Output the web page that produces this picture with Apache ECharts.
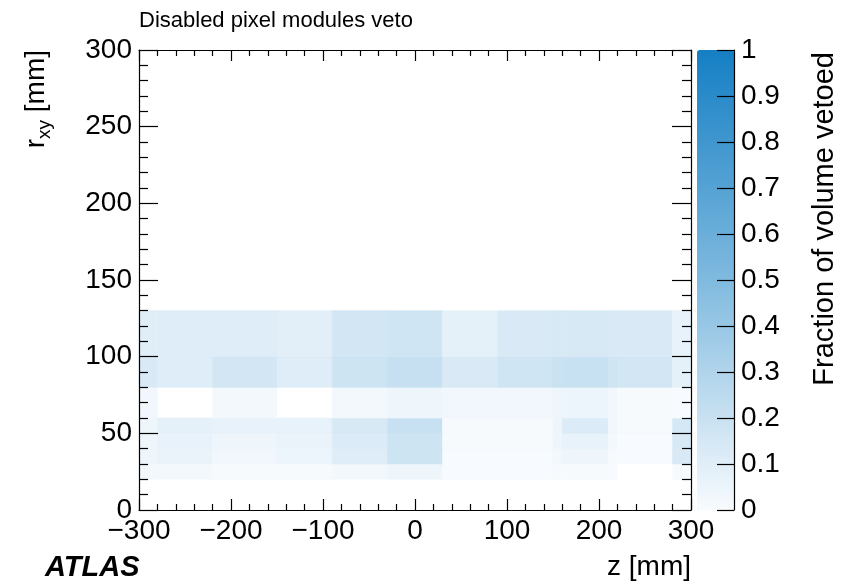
<!DOCTYPE html>
<html>
<head>
<meta charset="utf-8">
<title>Disabled pixel modules veto</title>
<script src="https://cdn.jsdelivr.net/npm/echarts@6/dist/echarts.min.js"></script>
<style>
  html, body { margin: 0; padding: 0; background: #ffffff; }
  #chart { width: 857px; height: 586px; }
</style>
</head>
<body>
<div id="chart"></div>
<script>
// Bin edges of the veto map (mm)
const zEdges = [-300, -280, -220, -150, -90, -30, 30, 90, 150, 160, 210, 220, 280, 300];
const rEdges = [20, 30, 40, 50, 60, 80, 100, 130];

// Fraction of volume vetoed, one array per radial band, one value per z bin
const veto_r20_30   = [0.02, 0.02, 0.01, 0.01, 0.02, 0.04, 0.005, 0.005, 0.01, 0.01, 0.005, 0.00, 0.01];
const veto_r30_40   = [0.04, 0.06, 0.03, 0.05, 0.11, 0.18, 0.005, 0.005, 0.02, 0.04, 0.01, 0.005, 0.13];
const veto_r40_50   = [0.04, 0.07, 0.04, 0.06, 0.12, 0.18, 0.01, 0.01, 0.04, 0.07, 0.02, 0.005, 0.14];
const veto_r50_60   = [0.04, 0.08, 0.07, 0.07, 0.14, 0.20, 0.01, 0.01, 0.04, 0.12, 0.03, 0.01, 0.15];
const veto_r60_80   = [0.03, 0.00, 0.02, 0.00, 0.02, 0.04, 0.03, 0.03, 0.04, 0.05, 0.03, 0.01, 0.005];
const veto_r80_100  = [0.13, 0.11, 0.16, 0.11, 0.18, 0.21, 0.13, 0.17, 0.19, 0.20, 0.17, 0.16, 0.08];
const veto_r100_130 = [0.10, 0.11, 0.11, 0.09, 0.16, 0.17, 0.08, 0.13, 0.14, 0.14, 0.13, 0.13, 0.07];

const bands = [veto_r20_30, veto_r30_40, veto_r40_50, veto_r50_60, veto_r60_80, veto_r80_100, veto_r100_130];

// Axis ranges and tick steps
const zRange = [-300, 300], zStep = 100;
const rRange = [0, 300], rStep = 50;
const fracRange = [0, 1], fracStep = 0.1;

const FONT = '"Liberation Sans", Arial, Helvetica, sans-serif';

// Flatten into [z0, z1, r0, r1, fraction]; empty bins are not drawn
const cells = [];
bands.forEach((row, i) => {
  row.forEach((v, j) => {
    if (v > 0) cells.push([zEdges[j], zEdges[j + 1], rEdges[i], rEdges[i + 1], v]);
  });
});

function renderCell(params, api) {
  const p0 = api.coord([api.value(0), api.value(3)]);
  const p1 = api.coord([api.value(1), api.value(2)]);
  const color = api.visual('color');
  return {
    type: 'rect',
    shape: { x: p0[0], y: p0[1], width: p1[0] - p0[0], height: p1[1] - p0[1] },
    style: { fill: color, stroke: color, lineWidth: 0.6 }
  };
}

const minus = v => String(v).replace('-', '\u2212');

const frameAxis = {
  type: 'value',
  z: 10,
  splitLine: { show: false },
  axisLine: { show: true, onZero: false, lineStyle: { color: '#000', width: 1.2 } },
  axisLabel: { show: false }
};

const chart = echarts.init(document.getElementById('chart'), null, { renderer: 'canvas' });

chart.setOption({
  backgroundColor: '#ffffff',
  animation: false,
  textStyle: { fontFamily: FONT },
  grid: [
    { left: 139, top: 50, width: 552, height: 460 },
    { left: 697, top: 50, width: 37, height: 460 }
  ],
  xAxis: [
    Object.assign({}, frameAxis, {
      gridIndex: 0, position: 'bottom', min: zRange[0], max: zRange[1], interval: zStep,
      axisTick: { show: true, inside: true, length: 11, lineStyle: { color: '#000', width: 1.2 } },
      minorTick: { show: true, splitNumber: 5, length: 6, lineStyle: { color: '#000', width: 1.2 } },
      axisLabel: { show: true, fontSize: 28, color: '#000', fontFamily: FONT, margin: 7,
                   showMinLabel: true, showMaxLabel: true, formatter: minus }
    }),
    Object.assign({}, frameAxis, {
      gridIndex: 0, position: 'top', min: zRange[0], max: zRange[1], interval: zStep,
      axisTick: { show: true, inside: true, length: 11, lineStyle: { color: '#000', width: 1.2 } },
      minorTick: { show: true, splitNumber: 5, length: 6, lineStyle: { color: '#000', width: 1.2 } }
    }),
    { type: 'value', gridIndex: 1, min: 0, max: 1, show: false }
  ],
  yAxis: [
    Object.assign({}, frameAxis, {
      gridIndex: 0, position: 'left', min: rRange[0], max: rRange[1], interval: rStep,
      axisTick: { show: true, inside: true, length: 19, lineStyle: { color: '#000', width: 1.2 } },
      minorTick: { show: true, splitNumber: 5, length: 9, lineStyle: { color: '#000', width: 1.2 } },
      axisLabel: { show: true, fontSize: 28, color: '#000', fontFamily: FONT, margin: 7,
                   showMinLabel: true, showMaxLabel: true }
    }),
    Object.assign({}, frameAxis, {
      gridIndex: 0, position: 'right', min: rRange[0], max: rRange[1], interval: rStep,
      axisTick: { show: true, inside: true, length: 19, lineStyle: { color: '#000', width: 1.2 } },
      minorTick: { show: true, splitNumber: 5, length: 9, lineStyle: { color: '#000', width: 1.2 } }
    }),
    Object.assign({}, frameAxis, {
      gridIndex: 1, position: 'right', min: fracRange[0], max: fracRange[1], interval: fracStep,
      axisTick: { show: true, inside: true, length: 17, lineStyle: { color: '#000', width: 1.2 } },
      axisLabel: { show: true, fontSize: 28, color: '#000', fontFamily: FONT, margin: 7,
                   showMinLabel: true, showMaxLabel: true }
    })
  ],
  visualMap: {
    type: 'continuous',
    min: fracRange[0],
    max: fracRange[1],
    dimension: 4,
    seriesIndex: 0,
    calculable: false,
    hoverLink: false,
    left: 697,
    top: 50,
    padding: 0,
    itemWidth: 37,
    itemHeight: 460,
    inRange: { color: ['#f8fbfe', '#80badf', '#157fc4'] }
  },
  series: [{
    type: 'custom',
    name: 'veto fraction',
    xAxisIndex: 0,
    yAxisIndex: 0,
    renderItem: renderCell,
    encode: { x: [0, 1], y: [2, 3] },
    data: cells,
    silent: true
  }],
  graphic: [
    {
      type: 'text', left: 139, top: 10,
      style: { text: 'Disabled pixel modules veto', font: '22px ' + FONT, fill: '#000' }
    },
    {
      type: 'text', x: 36, y: 50, rotation: Math.PI / 2,
      style: {
        text: '{a|r}{s|xy}{a| [mm]}',
        align: 'right', verticalAlign: 'middle',
        rich: {
          a: { fontFamily: FONT, fontSize: 28, lineHeight: 36, fill: '#000', verticalAlign: 'middle' },
          s: { fontFamily: FONT, fontSize: 19, lineHeight: 20, fill: '#000', verticalAlign: 'bottom' }
        }
      }
    },
    {
      type: 'text', x: 825, y: 52, rotation: Math.PI / 2,
      style: {
        text: 'Fraction of volume vetoed',
        align: 'right', verticalAlign: 'middle',
        font: '29px ' + FONT, fill: '#000'
      }
    },
    {
      type: 'text', left: 45, top: 553,
      style: { text: 'ATLAS', font: 'italic bold 29px ' + FONT, fill: '#000' }
    },
    {
      type: 'text', right: 166, top: 553,
      style: { text: 'z [mm]', font: '28px ' + FONT, fill: '#000' }
    }
  ]
});
</script>
</body>
</html>
